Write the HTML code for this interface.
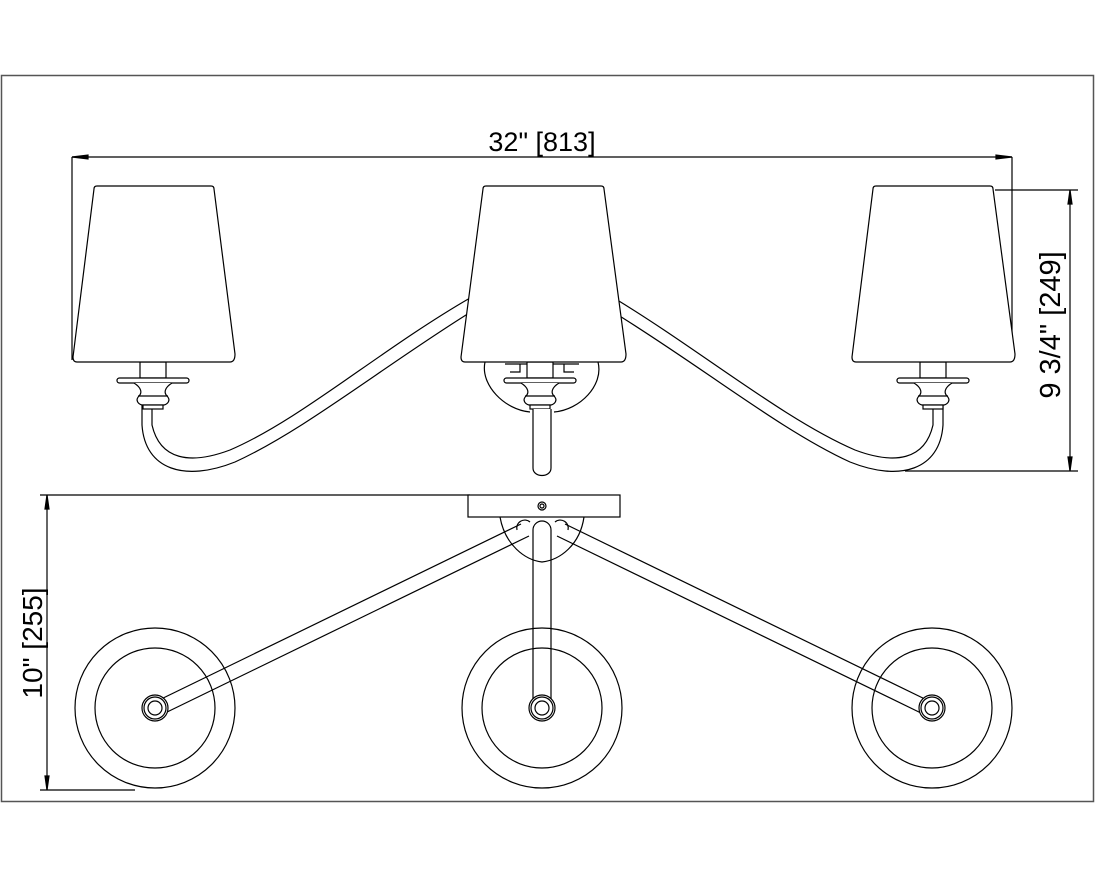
<!DOCTYPE html>
<html><head><meta charset="utf-8"><style>
html,body{margin:0;padding:0;background:#fff;}
svg{display:block;}
text{font-family:"Liberation Sans",Arial,sans-serif;fill:#000;}
</style></head><body>
<svg width="1096" height="877" viewBox="0 0 1096 877" xmlns="http://www.w3.org/2000/svg" fill="none" stroke="#000" stroke-width="1.2">
<rect x="1.5" y="75.5" width="1092" height="726" stroke="#555" stroke-width="1.5"/>

<!-- top dimension -->
<line x1="72" y1="157" x2="1012" y2="157"/>
<line x1="72" y1="157" x2="72" y2="360"/>
<line x1="1012" y1="157" x2="1012" y2="360"/>
<path d="M72 157 l16 -2 v4 z M1012 157 l-16 -2 v4 z" fill="#000"/>
<text x="542" y="151" font-size="27" text-anchor="middle" stroke="none">32" [813]</text>

<!-- right vertical dim -->
<line x1="1070" y1="190" x2="1070" y2="471"/>
<line x1="995" y1="190" x2="1078" y2="190"/>
<line x1="905" y1="471" x2="1078" y2="471"/>
<path d="M1070 190 l-2 14 h4 z M1070 471 l-2 -14 h4 z" fill="#000"/>
<text transform="translate(1060,325) rotate(-90)" font-size="29" text-anchor="middle" stroke="none">9 3/4" [249]</text>

<!-- left vertical dim -->
<line x1="47" y1="495" x2="47" y2="790"/>
<line x1="40" y1="495" x2="470" y2="495"/>
<line x1="40" y1="790" x2="135" y2="790"/>
<path d="M47 495 l-2 14 h4 z M47 790 l-2 -14 h4 z" fill="#000"/>
<text transform="translate(42,643) rotate(-90)" font-size="28" text-anchor="middle" stroke="none">10" [255]</text>

<!-- arms top view -->
<path d="M470 298 C380 350 300 420 230 450 C190 465 160 460 152 425 V405"/>
<path d="M474 310 C385 365 305 430 235 462 C185 482 145 470 142 425 V405"/>
<path d="M614 298 C700 350 785 420 855 450 C895 465 925 460 933 425 V405"/>
<path d="M610 310 C700 365 780 430 850 462 C900 482 940 470 943 425 V405"/>

<!-- center canopy -->
<path d="M485 362 C480 385 505 410 530 412 M598 362 C604 385 580 410 554 412"/>
<path d="M505 364 h74 M520 364 v8 h-10 M564 364 v8 h10"/>

<!-- holders -->
<g id="h">
<rect x="140" y="362" width="26" height="16" fill="#fff"/>
<rect x="117" y="378" width="72" height="5" rx="2.5" fill="#fff"/>
<path d="M134 383 C142 388 142 393 139 396 C135 400 138 404 142 405 H164 C168 404 171 400 167 396 C164 393 164 388 172 383" fill="#fff"/>
<line x1="138" y1="396" x2="168" y2="396"/>
<rect x="143" y="405" width="20" height="4" fill="#fff"/>
</g>
<use href="#h" x="387"/>
<use href="#h" x="780"/>
<path d="M533 409 V468 C533 478 551 478 551 468 V409" fill="#fff"/>

<!-- shades -->
<path d="M97 186 H211 Q214 186 214 189 L235 354 Q235 362 230 362 H77 Q73 362 73 357 L94 189 Q94 186 97 186 Z" fill="#fff"/>
<path d="M486 186 H601 Q604 186 604 189 L626 354 Q626 362 621 362 H465 Q461 362 461 357 L483 189 Q483 186 486 186 Z" fill="#fff"/>
<path d="M876 186 H990 Q993 186 993 189 L1015 354 Q1015 362 1010 362 H856 Q852 362 852 357 L873 189 Q873 186 876 186 Z" fill="#fff"/>

<!-- bottom view -->
<path d="M500 517 C505 545 525 560 542 562 C560 560 580 545 584 517"/>
<line x1="521" y1="524" x2="155" y2="702"/>
<line x1="529" y1="536" x2="163" y2="714"/>
<line x1="565" y1="524" x2="931" y2="702"/>
<line x1="557" y1="536" x2="923" y2="714"/>
<line x1="533" y1="530" x2="533" y2="706"/>
<line x1="551" y1="530" x2="551" y2="706"/>
<path d="M517 530 a8 8 0 0 1 13 -8 M533 530 a9 9 0 0 1 18 0 M555 522 a8 8 0 0 1 13 8"/>
<rect x="468" y="495" width="152" height="22" fill="#fff"/>
<circle cx="542" cy="506" r="4"/><circle cx="542" cy="506" r="2"/>

<g id="c">
<circle cx="155" cy="708" r="80"/>
<circle cx="155" cy="708" r="60"/>
<circle cx="155" cy="708" r="13" fill="#fff"/>
<circle cx="155" cy="708" r="11"/>
<circle cx="155" cy="708" r="7"/>
</g>
<use href="#c" x="387"/>
<use href="#c" x="777"/>
</svg>
</body></html>
